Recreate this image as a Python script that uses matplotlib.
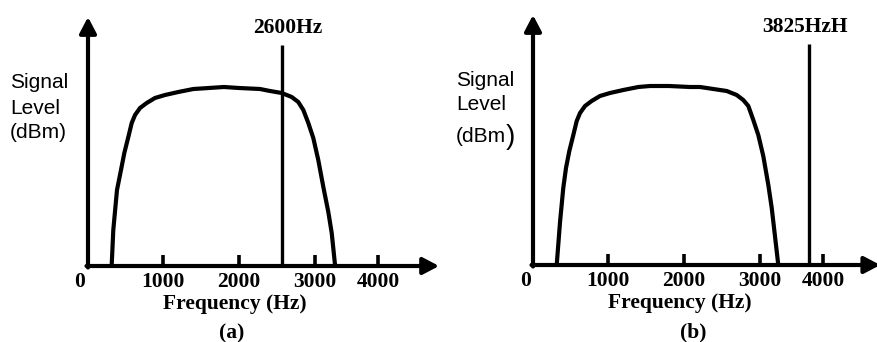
import matplotlib
matplotlib.use("Agg")
import matplotlib.pyplot as plt

# data (x in Hz as drawn, y in arbitrary level units)
tick_pos = [990, 2000, 3010, 3845]
tick_labels = ["1000", "2000", "3000", "4000"]

curve_a_x = [314, 335, 384, 437, 481, 534, 579, 623, 689, 777, 887, 1020, 1196, 1395, 1600, 1800,
             2000, 2278, 2411, 2566, 2698, 2785, 2852, 2918, 2984, 3050, 3117, 3183, 3228, 3272]
curve_a_y = [1, 36, 76, 96, 113, 129, 143, 151, 158, 163, 168, 171, 174, 177, 178, 179,
             178, 177, 175, 173, 169, 164, 156, 143, 128, 106, 79, 54, 33, 1]

curve_b_x = [314, 358, 401, 437, 481, 534, 579, 623, 689, 777, 887, 1020, 1196, 1395, 1550, 1800,
             2079, 2212, 2388, 2566, 2698, 2785, 2852, 2918, 2984, 3050, 3117, 3162, 3249]
curve_b_y = [0, 43, 77, 97, 114, 130, 144, 152, 159, 164, 169, 172, 175, 178, 179, 179,
             178, 178, 176, 174, 170, 165, 159, 145, 130, 109, 80, 57, 0]

marker_a = 2565
marker_b = 3656
marker_labels = ["2600Hz", "3825HzH"]
panel_labels = ["(a)", "(b)"]

W, H = 878, 342
PX_PER_HZ = 0.0755

fig = plt.figure(figsize=(W / 100, H / 100), dpi=100)

serif = dict(family="Liberation Serif", weight="bold", size=15.5)
sans = dict(family="Liberation Sans", size=15)


def panel(left, right, ox, oy):
    # axes covering pixel columns left..right, origin of the drawing at (ox, oy)
    ax = fig.add_axes([left / W, 0, (right - left) / W, 1])
    ax.set_xlim((left - ox) / PX_PER_HZ, (right - ox) / PX_PER_HZ)
    ax.set_ylim(oy - H, oy)
    ax.axis("off")
    return ax


def draw(ax, cx, cy, marker, mlabel, plabel, plabel_x, xtip, ytip, sig_x, sig_y, zero_x, mlab_dx, big_paren):
    ax.plot(cx, cy, color="k", lw=3.0, solid_joinstyle="round", solid_capstyle="butt", clip_on=False)
    ax.plot([marker, marker], [0, 221], color="k", lw=2.4, solid_capstyle="butt")
    ax.vlines(tick_pos, 0, 11, colors="k", lw=2.6)
    arrow = dict(arrowstyle="-|>,head_length=0.8,head_width=0.42", color="k", lw=3,
                 mutation_scale=12, shrinkA=0, shrinkB=0)
    ax.annotate("", xy=(xtip, 0), xytext=(-20, 0), arrowprops=arrow, annotation_clip=False)
    ax.annotate("", xy=(0, ytip), xytext=(0, -1.5), arrowprops=arrow, annotation_clip=False)

    for p, lab in zip(tick_pos, tick_labels):
        ax.text(p, -16, lab, ha="center", va="center", **serif)
    ax.text(zero_x, -16, "0", ha="center", va="center", **serif)
    ax.text(1945, -38, "Frequency (Hz)", ha="center", va="center", **serif)
    ax.text(plabel_x, -67, plabel, ha="center", va="center", **serif)
    ax.text(marker + mlab_dx, 238, mlabel, ha="center", va="center", **serif)

    ax.text(sig_x, sig_y[0], "Signal", ha="left", va="center", **sans)
    ax.text(sig_x, sig_y[1], "Level", ha="left", va="center", **sans)
    if big_paren:
        t = ax.text(sig_x, sig_y[2], "(dBm", ha="left", va="center", **sans)
        ax.annotate(")", xy=(1, 0.5), xycoords=t, ha="left", va="center",
                    family="Liberation Sans", size=20)
    else:
        ax.text(sig_x, sig_y[2], "(dBm)", ha="left", va="center", **sans)


ax_a = panel(0, 439, 88, 266)
draw(ax_a, curve_a_x, curve_a_y, marker_a, marker_labels[0], panel_labels[0], 1907,
     4650, 249, -1033, [184, 158, 133], -106, 80, False)

ax_b = panel(439, 878, 533, 265)
draw(ax_b, curve_b_x, curve_b_y, marker_b, marker_labels[1], panel_labels[1], 2119,
     4600, 250, -1020, [185, 160, 128], -93, -50, True)

fig.savefig("out.png", dpi=100)
